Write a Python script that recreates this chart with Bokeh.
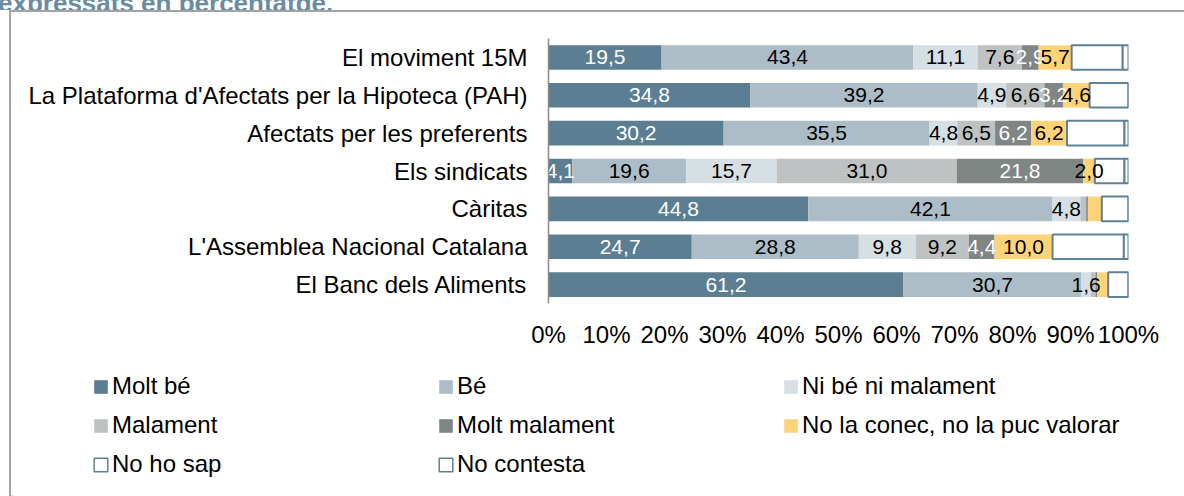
from bokeh.plotting import figure
from bokeh.models import (ColumnDataSource, FactorRange, Range1d, FixedTicker,
                          Legend, LegendItem, Div)
from bokeh.layouts import column
from bokeh.core.properties import value
from bokeh.embed import file_html
from bokeh.resources import INLINE

categories = ["El moviment 15M",
              "La Plataforma d'Afectats per la Hipoteca (PAH)",
              "Afectats per les preferents",
              "Els sindicats",
              "Càritas",
              "L'Assemblea Nacional Catalana",
              "El Banc dels Aliments"]
series = ["Molt bé", "Bé", "Ni bé ni malament", "Malament", "Molt malament",
          "No la conec, no la puc valorar", "No ho sap", "No contesta"]
molt_be = [19.5, 34.8, 30.2, 4.1, 44.8, 24.7, 61.2]
be = [43.4, 39.2, 35.5, 19.6, 42.1, 28.8, 30.7]
ni_be = [11.1, 4.9, 4.8, 15.7, 4.8, 9.8, 1.6]
malament = [7.6, 6.6, 6.5, 31.0, 1.0, 9.2, 0.8]
molt_malament = [2.9, 3.2, 6.2, 21.8, 0.3, 4.4, 0.3]
no_conec = [5.7, 4.6, 6.2, 2.0, 2.4, 10.0, 1.9]
no_ho_sap = [8.8, 6.7, 9.9, 5.1, 4.6, 12.3, 3.5]
no_contesta = [1.0, 0.0, 0.7, 0.7, 0.0, 0.8, 0.0]
tick_values = [0, 10, 20, 30, 40, 50, 60, 70, 80, 90, 100]
tick_labels = ["0%", "10%", "20%", "30%", "40%", "50%", "60%", "70%", "80%", "90%", "100%"]
title_text = "expressats en percentatge."
# segments whose value label is not printed in the original
unlabelled = [("Càritas", "Malament"), ("Càritas", "Molt malament"),
              ("Càritas", "No la conec, no la puc valorar"),
              ("El Banc dels Aliments", "Malament"),
              ("El Banc dels Aliments", "Molt malament"),
              ("El Banc dels Aliments", "No la conec, no la puc valorar")]

values = [molt_be, be, ni_be, malament, molt_malament, no_conec, no_ho_sap, no_contesta]
fills = ["#5b7e93", "#adbdc7", "#d6dfe4", "#bfc2c2", "#7f8684", "#ffd478", "white", "white"]
outlines = [None, None, None, None, None, None, "#5f8196", "#5f8196"]
label_colors = ["white", "black", "black", "black", "white", "black", None, None]

FONT = "Liberation Sans"
W = 1173  # width inside the grey panel border

# ---------------- main chart ----------------
p = figure(width=W, height=338,
           y_range=FactorRange(factors=list(reversed(categories))),
           x_range=Range1d(0, 100),
           output_backend="svg", toolbar_location=None,
           min_border_left=537, min_border_right=56,
           min_border_top=26, min_border_bottom=46)
p.frame_align = False
p.outline_line_color = None
p.xgrid.visible = False
p.ygrid.visible = False

def hbar_kwargs(si):
    if outlines[si] is None:
        return dict(fill_color=fills[si], line_color=None)
    return dict(fill_color=fills[si], line_color=outlines[si], line_width=2)

left = [0.0] * len(categories)
lx, ly, lt, lc = [], [], [], []
for si, (name, vals) in enumerate(zip(series, values)):
    right = [l + v for l, v in zip(left, vals)]
    src = ColumnDataSource(dict(y=categories, left=left, right=right))
    p.hbar(y="y", left="left", right="right", height=0.65, source=src, **hbar_kwargs(si))
    if label_colors[si] is not None:
        for ci, cat in enumerate(categories):
            v = vals[ci]
            if (cat, name) in unlabelled or v <= 0:
                continue
            lx.append(left[ci] + v / 2)
            ly.append(cat)
            lt.append(f"{v:.1f}".replace(".", ","))
            lc.append(label_colors[si])
    left = right

lab_src = ColumnDataSource(dict(x=lx, y=ly, t=lt, c=lc))
p.text(x="x", y="y", text="t", text_color="c", source=lab_src,
       text_font=value(FONT), text_font_size="21px",
       text_align="center", text_baseline="middle")

p.yaxis.axis_line_color = "#8c8c8c"
p.yaxis.axis_line_width = 1.5
p.yaxis.major_tick_line_color = None
p.yaxis.minor_tick_line_color = None
p.yaxis.major_tick_out = 0
p.yaxis.major_label_standoff = 21
p.yaxis.major_label_text_font = FONT
p.yaxis.major_label_text_font_size = "24px"
p.yaxis.major_label_text_color = "black"

p.xaxis.ticker = FixedTicker(ticks=tick_values)
p.xaxis.major_label_overrides = {t: s for t, s in zip(tick_values, tick_labels)}
p.xaxis.axis_line_color = None
p.xaxis.major_tick_line_color = None
p.xaxis.minor_tick_line_color = None
p.xaxis.major_tick_out = 0
p.xaxis.major_label_standoff = 17
p.xaxis.major_label_text_font = FONT
p.xaxis.major_label_text_font_size = "24px"
p.xaxis.major_label_text_color = "black"

# ---------------- legend strip ----------------
pl = figure(width=W, height=146, x_range=Range1d(0, W), y_range=Range1d(0, 146),
            output_backend="svg", toolbar_location=None,
            x_axis_location=None, y_axis_location=None,
            min_border=0, min_border_left=0, min_border_right=0,
            min_border_top=0, min_border_bottom=0)
pl.frame_align = False
pl.outline_line_color = None
pl.xgrid.visible = False
pl.ygrid.visible = False
items = []
for si, name in enumerate(series):
    # legend proxy: one bar placed far outside the visible range
    proxy = ColumnDataSource(dict(y=[-1000], left=[0], right=[1]))
    kw = hbar_kwargs(si)
    if "line_width" in kw:
        kw["line_width"] = 1.5
    r = pl.hbar(y="y", left="left", right="right", height=1, source=proxy, **kw)
    items.append(LegendItem(label=name, renderers=[r]))
legend = Legend(items=items, location=(81, 18), orientation="horizontal", ncols=3,
                padding=0, margin=0, spacing=11,
                glyph_width=17, glyph_height=17, label_standoff=3,
                label_width=314, label_height=26,
                label_text_font=FONT, label_text_font_size="24px",
                label_text_color="black",
                border_line_color=None, background_fill_alpha=0)
pl.add_layout(legend, "center")

# ---------------- page furniture ----------------
title = Div(text=('<div style="margin-top:-19px; margin-left:-2px; white-space:nowrap; '
                  'font-family:\'Liberation Sans\'; font-weight:bold; font-size:26px; '
                  'line-height:24px; color:#6a8ca3;">' + title_text + '</div>'),
            width=1184, height=10, margin=0, styles={"overflow": "hidden"})
panel = column(p, pl, spacing=0, margin=0,
               styles={"margin-left": "9px", "border-left": "2px solid #a3a3a3",
                       "border-top": "2px solid #a3a3a3"})
page = column(title, panel, spacing=0, margin=0)

open("out.html", "w").write(file_html(page, INLINE))
